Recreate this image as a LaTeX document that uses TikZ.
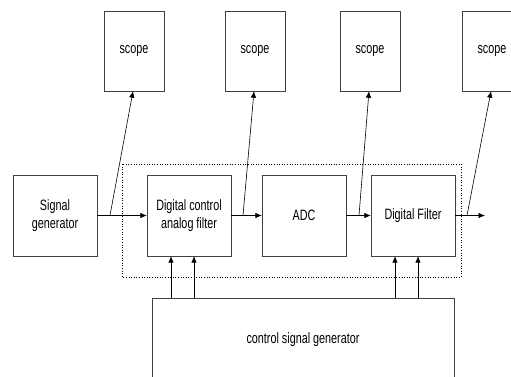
\documentclass[tikz,border=0pt]{standalone}
\usepackage{fontspec}
\setmainfont[FakeStretch=0.72]{Liberation Sans}
\usetikzlibrary{arrows.meta}

\tikzset{
  blk/.style={draw=black!75, minimum width=84pt, minimum height=81pt, align=center, inner sep=1pt},
  scopebox/.style={draw=black!75, minimum width=60pt, minimum height=80pt},
  sig/.style={-{Latex[length=6.5pt,width=5.5pt]}, line width=0.6pt},
}

\begin{document}
\begin{tikzpicture}[x=1pt, y=-1pt, font=\fontsize{15}{18.5}\selectfont]
\clip (0,0) rectangle (511,377);
% main chain
\node[blk] (gen) at (55,215.5) {Signal\\generator};
\node[blk] (dcf) at (189,215.5) {Digital control\\analog filter};
\node[blk] (adc) at (304,215.5) {ADC};
\node[blk] (dfl) at (413,215.5) {Digital Filter};
\draw[dotted, line width=0.6pt] (122,164) rectangle (461,277);
% scopes
\foreach \n/\x in {1/134, 2/255, 3/370, 4/492} {
  \node[scopebox] (scope\n) at (\x,51) {scope};
}
% control signal generator
\node[draw=black!75, minimum width=302pt, minimum height=84pt] (csg) at (303,340) {control signal generator};
% signal path
\coordinate (out) at (485,215.5);
\draw[sig] (gen) -- (dcf);
\draw[sig] (dcf) -- (adc);
\draw[sig] (adc) -- (dfl);
\draw[sig] (dfl) -- (out);
% taps to the scopes
\coordinate (tap1) at (110,215.5);
\coordinate (tap2) at (243,215.5);
\coordinate (tap3) at (359,215.5);
\coordinate (tap4) at (467,215.5);
\foreach \n in {1,...,4} {
  \draw[sig] (tap\n) -- ([xshift=-1pt]scope\n.south);
}
% control lines
\foreach \b in {dcf, dfl} {
  \draw[sig] ([xshift=-18pt]\b.south |- csg.north) -- ([xshift=-18pt]\b.south);
  \draw[sig] ([xshift=5pt]\b.south |- csg.north) -- ([xshift=5pt]\b.south);
}
\end{tikzpicture}
\end{document}
